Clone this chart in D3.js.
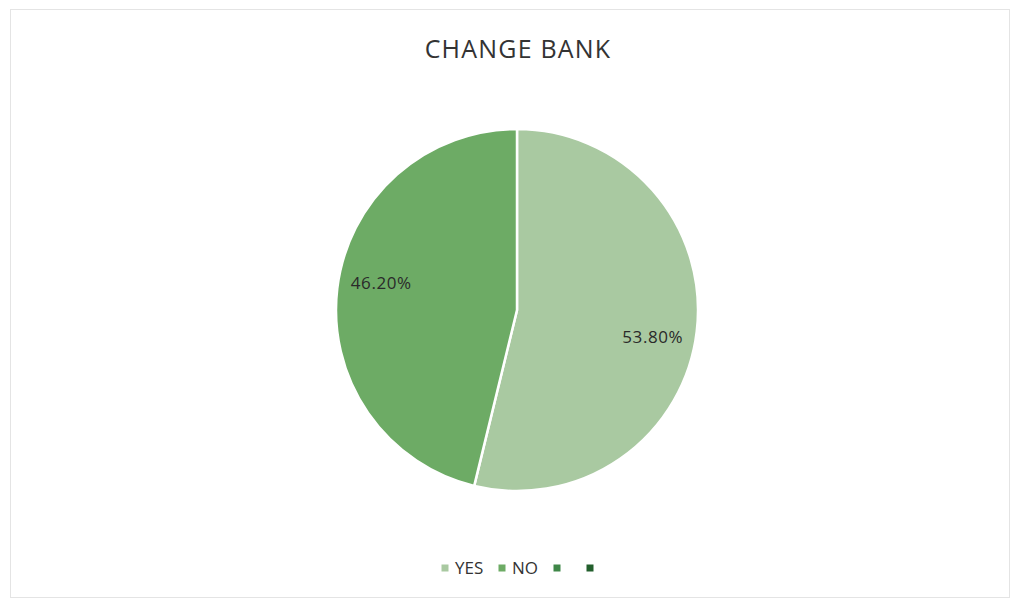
<!DOCTYPE html>
<html>
<head>
<meta charset="utf-8">
<script src="https://cdn.jsdelivr.net/npm/d3@7"></script>
<style>
  body { margin: 0; background: #fff; }
  text { font-family: "Open Sans", "Noto Sans", sans-serif; }
</style>
</head>
<body>
<svg id="chart" width="1018" height="602"></svg>
<script>
// data
const categories = ['YES', 'NO', '', '']
const values = [53.8, 46.2, 0, 0]
const labels = ['53.80%', '46.20%', '', '']
const colors = ['#a9c9a1', '#6dab65', '#3f8748', '#225f2c']

const svg = d3.select('#chart')

// outer frame
svg.append('rect')
  .attr('x', 10.5).attr('y', 9.5)
  .attr('width', 999).attr('height', 588)
  .attr('fill', 'none')
  .attr('stroke', '#e4e4e4')

// title
svg.append('text')
  .attr('x', 518).attr('y', 58)
  .attr('text-anchor', 'middle')
  .attr('font-size', 25)
  .attr('letter-spacing', 1.2)
  .attr('fill', '#333')
  .text('CHANGE BANK')

const cx = 517, cy = 310, radius = 181

const pie = d3.pie().sort(null).value(d => d)
const arcs = pie(values)
const arc = d3.arc().innerRadius(0).outerRadius(radius)
const labelArc = d3.arc().innerRadius(radius * 0.765).outerRadius(radius * 0.765)
// labels sit a little clockwise of the slice middle, like the original
const shift = 4.5 * Math.PI / 180
const labelPos = a => labelArc.centroid({ startAngle: a.startAngle + shift, endAngle: a.endAngle + shift })

const g = svg.append('g').attr('transform', `translate(${cx},${cy})`)

g.selectAll('path')
  .data(arcs.filter(a => a.value > 0))
  .enter()
  .append('path')
  .attr('d', arc)
  .attr('fill', a => colors[a.index])
  .attr('stroke', '#fff')
  .attr('stroke-width', 2.5)

g.selectAll('text')
  .data(arcs.filter(a => a.value > 0))
  .enter()
  .append('text')
  .attr('transform', a => `translate(${labelPos(a)})`)
  .attr('text-anchor', 'middle')
  .attr('dy', '0.35em')
  .attr('font-size', 17)
  .attr('letter-spacing', 0.6)
  .attr('fill', '#2a2a2a')
  .text(a => labels[a.index])

// legend
const offsets = [445, 502, 557, 590]
const legend = svg.append('g')
const items = legend.selectAll('g')
  .data(categories)
  .enter()
  .append('g')
  .attr('transform', (d, i) => `translate(${offsets[i]}, 568)`)

items.append('rect')
  .attr('x', -3.5).attr('y', -3.5)
  .attr('width', 7).attr('height', 7)
  .attr('fill', (d, i) => colors[i])

items.append('text')
  .attr('x', 10)
  .attr('dy', '0.35em')
  .attr('font-size', 17)
  .attr('fill', '#333')
  .text(d => d)
</script>
</body>
</html>
